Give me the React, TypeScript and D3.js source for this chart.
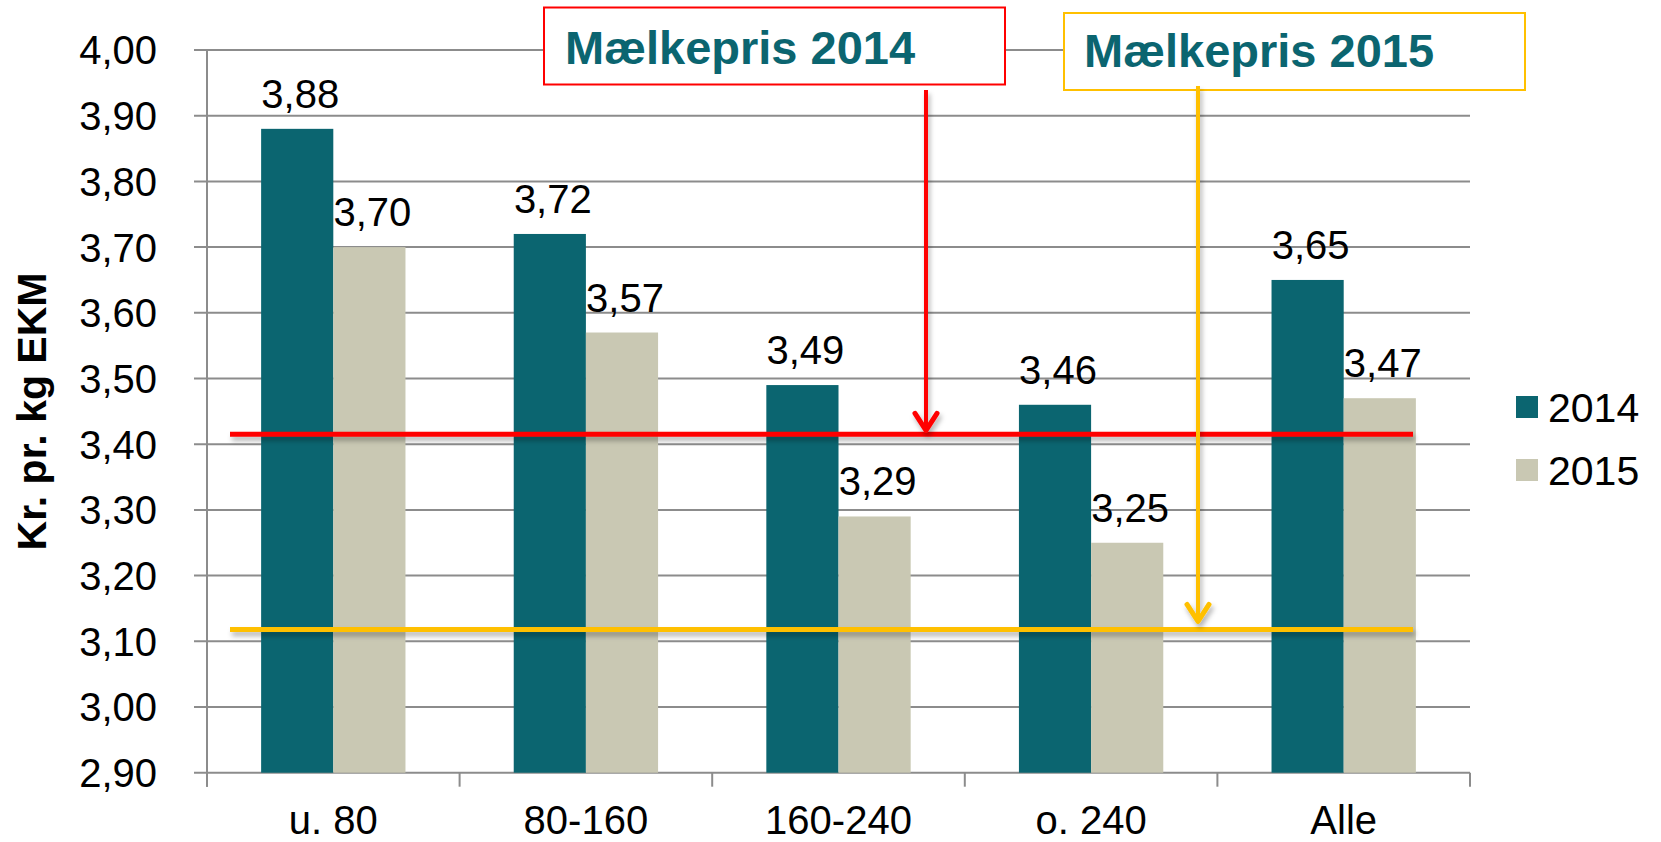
import React from "react";
import * as d3 from "d3";

const categories = ["u. 80", "80-160", "160-240", "o. 240", "Alle"];
const series = ["2014", "2015"];
const values2014 = [3.88, 3.72, 3.49, 3.46, 3.65];
const values2015 = [3.7, 3.57, 3.29, 3.25, 3.47];
const yTicks = [2.9, 3.0, 3.1, 3.2, 3.3, 3.4, 3.5, 3.6, 3.7, 3.8, 3.9, 4.0];
const milkPrice2014 = 3.415;
const milkPrice2015 = 3.118;
const annotation2014 = "Mælkepris 2014";
const annotation2015 = "Mælkepris 2015";
const yTitle = "Kr. pr. kg EKM";

const COLORS = ["#0B6570", "#C9C8B3"];
const RED = "#FF0000";
const YELLOW = "#FFC000";
const FONT = "'Liberation Sans', Arial, sans-serif";

const fmt = (v: number) => d3.format(".2f")(v).replace(".", ",");

export default function App() {
  const W = 1661,
    H = 842;
  const left = 207,
    right = 1470,
    top = 50,
    bottom = 772.7;

  const x0 = d3.scaleBand<string>().domain(categories).range([left, right]).paddingInner(0).paddingOuter(0);
  const bw = x0.bandwidth();
  const barW = bw / 3.5;
  const x1 = d3
    .scaleBand<string>()
    .domain(series)
    .range([0.75 * barW, 2.75 * barW]);
  const y = d3.scaleLinear().domain([2.9, 4.0]).range([bottom, top]);

  const data = [values2014, values2015];

  const refY14 = y(milkPrice2014);
  const refY15 = y(milkPrice2015);
  const lineX0 = 230,
    lineX1 = 1413;

  const arrow = (x: number, y0: number, tipY: number, color: string) => (
    <g filter="url(#shadow)">
      <line x1={x} x2={x} y1={y0} y2={tipY - 2} stroke={color} strokeWidth={4} />
      <path
        d={`M${x - 11},${tipY - 19} L${x},${tipY - 2} L${x + 11},${tipY - 19}`}
        fill="none"
        stroke={color}
        strokeWidth={5}
        strokeLinecap="round"
        strokeLinejoin="round"
      />
    </g>
  );

  return (
    <svg
      width={W}
      height={H}
      style={{ position: "absolute", left: 0, top: 0, background: "#fff" }}
      fontFamily={FONT}
    >
      <defs>
        <filter id="shadow" filterUnits="userSpaceOnUse" x={0} y={0} width={W} height={H}>
          <feDropShadow dx="2" dy="4" stdDeviation="2.5" floodColor="#000" floodOpacity="0.3" />
        </filter>
      </defs>

      {/* gridlines */}
      {yTicks.map((t) => (
        <line key={t} x1={194} x2={right} y1={y(t)} y2={y(t)} stroke="#8C8C8C" strokeWidth={2} />
      ))}
      {/* y axis */}
      <line x1={left} x2={left} y1={top} y2={bottom + 14} stroke="#8C8C8C" strokeWidth={2} />
      {/* x ticks */}
      {categories.map((c) => (
        <line key={c} x1={x0(c)!} x2={x0(c)!} y1={bottom} y2={bottom + 14} stroke="#8C8C8C" strokeWidth={2} />
      ))}
      <line x1={right} x2={right} y1={bottom} y2={bottom + 14} stroke="#8C8C8C" strokeWidth={2} />

      {/* y tick labels */}
      {yTicks.map((t) => (
        <text key={t} x={157} y={y(t)} dy="0.36em" textAnchor="end" fontSize={40} fill="#000">
          {fmt(t)}
        </text>
      ))}

      {/* y title */}
      <text
        transform={`translate(46,${(270 + 553) / 2}) rotate(-90)`}
        textAnchor="middle"
        fontSize={41}
        fontWeight="bold"
        fill="#000"
      >
        {yTitle}
      </text>

      {/* bars */}
      {categories.map((c, i) =>
        series.map((s, j) => {
          const v = data[j][i];
          const bx = x0(c)! + x1(s)!;
          return (
            <rect key={c + s} x={bx} y={y(v)} width={x1.bandwidth()} height={bottom - y(v)} fill={COLORS[j]} />
          );
        })
      )}

      {/* reference lines */}
      <line x1={lineX0} x2={lineX1} y1={refY14} y2={refY14} stroke={RED} strokeWidth={5} filter="url(#shadow)" />
      <line x1={lineX0} x2={lineX1} y1={refY15} y2={refY15} stroke={YELLOW} strokeWidth={5} filter="url(#shadow)" />

      {/* data labels */}
      {categories.map((c, i) =>
        series.map((s, j) => {
          const v = data[j][i];
          const cx = x0(c)! + x1(s)! + x1.bandwidth() / 2 + 3;
          return (
            <text key={"l" + c + s} x={cx} y={y(v) - 21} textAnchor="middle" fontSize={40} fill="#000">
              {fmt(v)}
            </text>
          );
        })
      )}

      {/* category labels */}
      {categories.map((c) => (
        <text key={"c" + c} x={x0(c)! + bw / 2} y={834} textAnchor="middle" fontSize={40} fill="#000">
          {c}
        </text>
      ))}

      {/* annotations */}
      <rect x={544} y={7.5} width={461} height={77} fill="#fff" stroke={RED} strokeWidth={2} />
      <text x={565} y={64} fontSize={47} fontWeight="bold" fill="#0B6570">
        {annotation2014}
      </text>
      <rect x={1064} y={13} width={461} height={77} fill="#fff" stroke={YELLOW} strokeWidth={2} />
      <text x={1084} y={67} fontSize={47} fontWeight="bold" fill="#0B6570">
        {annotation2015}
      </text>
      {arrow(926, 90, refY14 - 2, RED)}
      {arrow(1198, 86, refY15 - 6, YELLOW)}

      {/* legend */}
      {series.map((s, j) => (
        <g key={"lg" + s} transform={`translate(1516,${396 + j * 63})`}>
          <rect x={0} y={0} width={22} height={22} fill={COLORS[j]} />
          <text x={32} y={26} fontSize={41} fill="#000">
            {s}
          </text>
        </g>
      ))}
    </svg>
  );
}
